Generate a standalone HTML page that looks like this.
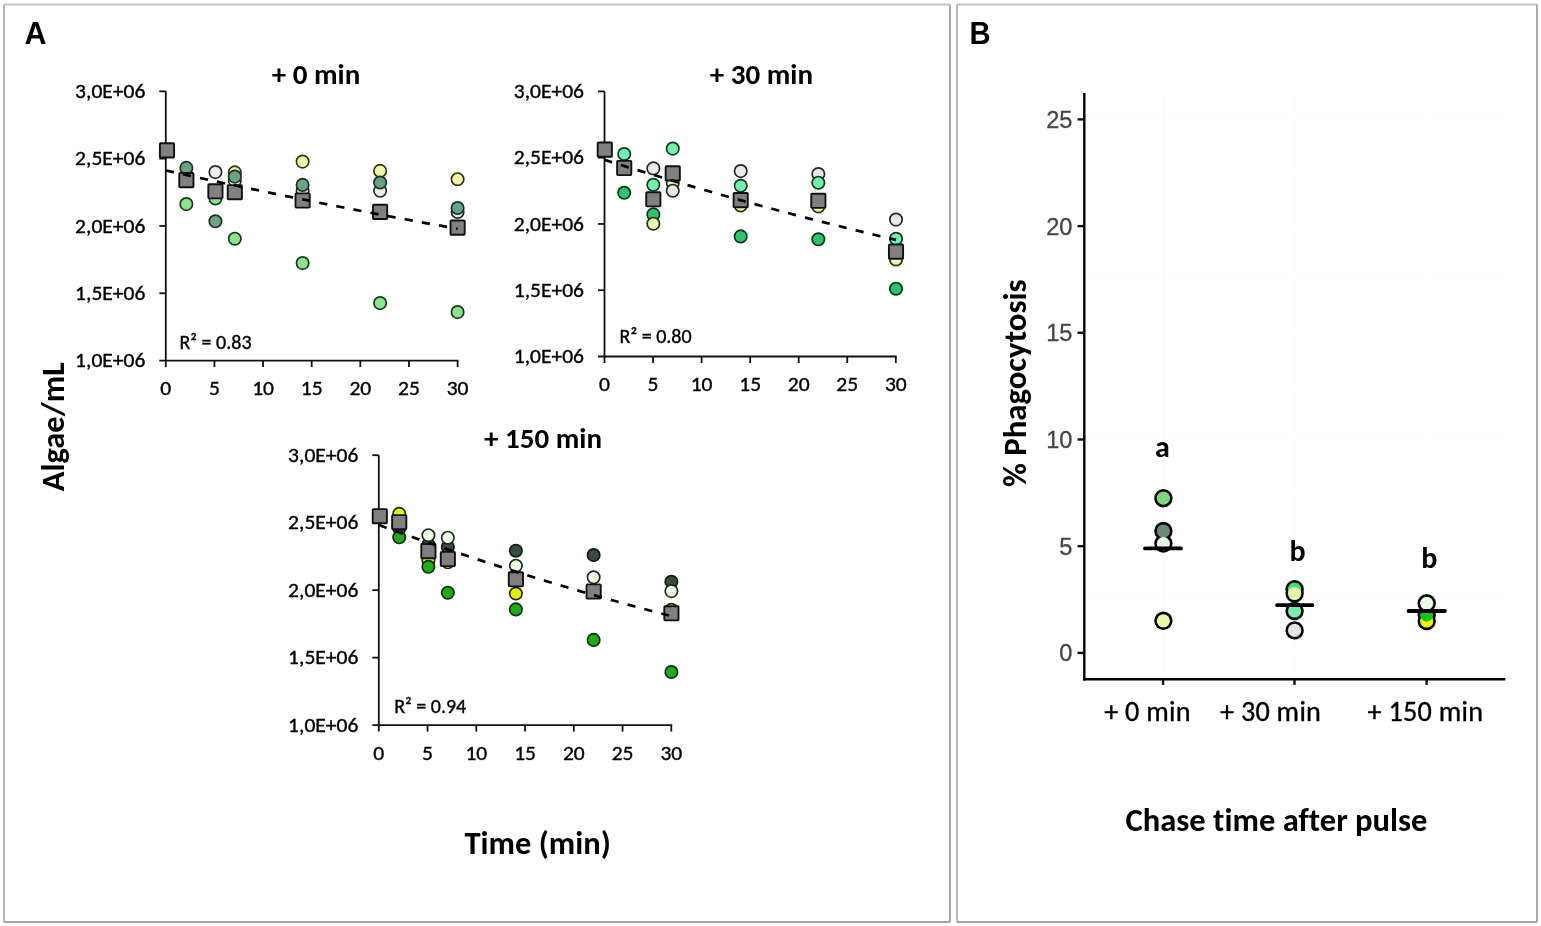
<!DOCTYPE html>
<html><head><meta charset="utf-8"><title>Figure</title>
<style>
html,body{margin:0;padding:0;background:#fff;}
body{width:1541px;height:926px;overflow:hidden;}
svg{display:block;}
text{font-variant-ligatures:none;font-feature-settings:'liga' 0,'clig' 0;}
text.r{stroke:#000;stroke-width:0.35px;}
text.g{stroke:#454545;stroke-width:0.3px;}
</style></head>
<body>
<svg width="1541" height="926" viewBox="0 0 1541 926">
<rect x="0" y="0" width="1541" height="926" fill="#fff"></rect>
<line x1="4" y1="4.5" x2="950" y2="4.5" stroke="#c4c4c4" stroke-width="2"></line>
<line x1="4" y1="4.5" x2="4" y2="922" stroke="#b8b8b8" stroke-width="2"></line>
<line x1="4" y1="922" x2="950" y2="922" stroke="#a4a4a4" stroke-width="2"></line>
<line x1="950" y1="4.5" x2="950" y2="922" stroke="#aaaaaa" stroke-width="2"></line>
<line x1="957" y1="4.5" x2="1537" y2="4.5" stroke="#c4c4c4" stroke-width="2"></line>
<line x1="957" y1="4.5" x2="957" y2="922" stroke="#b8b8b8" stroke-width="2"></line>
<line x1="957" y1="922" x2="1537" y2="922" stroke="#a4a4a4" stroke-width="2"></line>
<line x1="1537" y1="4.5" x2="1537" y2="922" stroke="#aaaaaa" stroke-width="2"></line>
<text x="24.4" y="44" font-family="&quot;Liberation Sans&quot;, Arial, sans-serif" font-weight="bold" font-size="30.5" textLength="22.03" lengthAdjust="spacingAndGlyphs">A</text>
<text x="969.4" y="44" font-family="&quot;Liberation Sans&quot;, Arial, sans-serif" font-weight="bold" font-size="30.5" transform="translate(969.4 0) scale(0.96 1) translate(-969.4 0)" textLength="22.01" lengthAdjust="spacingAndGlyphs">B</text>
<line x1="165.8" y1="91.3" x2="165.8" y2="360.6" stroke="#111" stroke-width="1.8"></line>
<line x1="159.3" y1="360.6" x2="458.5" y2="360.6" stroke="#111" stroke-width="1.8"></line>
<line x1="159.3" y1="293.28" x2="165.8" y2="293.28" stroke="#111" stroke-width="1.8"></line>
<line x1="159.3" y1="225.95" x2="165.8" y2="225.95" stroke="#111" stroke-width="1.8"></line>
<line x1="159.3" y1="158.62" x2="165.8" y2="158.62" stroke="#111" stroke-width="1.8"></line>
<line x1="159.3" y1="91.30" x2="165.8" y2="91.30" stroke="#111" stroke-width="1.8"></line>
<line x1="165.80" y1="360.6" x2="165.80" y2="367.1" stroke="#111" stroke-width="1.8"></line>
<line x1="214.43" y1="360.6" x2="214.43" y2="367.1" stroke="#111" stroke-width="1.8"></line>
<line x1="263.07" y1="360.6" x2="263.07" y2="367.1" stroke="#111" stroke-width="1.8"></line>
<line x1="311.70" y1="360.6" x2="311.70" y2="367.1" stroke="#111" stroke-width="1.8"></line>
<line x1="360.33" y1="360.6" x2="360.33" y2="367.1" stroke="#111" stroke-width="1.8"></line>
<line x1="408.97" y1="360.6" x2="408.97" y2="367.1" stroke="#111" stroke-width="1.8"></line>
<line x1="457.60" y1="360.6" x2="457.60" y2="367.1" stroke="#111" stroke-width="1.8"></line>
<text x="145.30" y="367.20" class="r" text-anchor="end" font-size="20" font-family="&quot;Carlito&quot;, &quot;Liberation Sans&quot;, sans-serif" textLength="70.17" lengthAdjust="spacingAndGlyphs">1,0E+06</text>
<text x="145.30" y="299.88" class="r" text-anchor="end" font-size="20" font-family="&quot;Carlito&quot;, &quot;Liberation Sans&quot;, sans-serif" textLength="70.17" lengthAdjust="spacingAndGlyphs">1,5E+06</text>
<text x="145.30" y="232.55" class="r" text-anchor="end" font-size="20" font-family="&quot;Carlito&quot;, &quot;Liberation Sans&quot;, sans-serif" textLength="70.17" lengthAdjust="spacingAndGlyphs">2,0E+06</text>
<text x="145.30" y="165.22" class="r" text-anchor="end" font-size="20" font-family="&quot;Carlito&quot;, &quot;Liberation Sans&quot;, sans-serif" textLength="70.17" lengthAdjust="spacingAndGlyphs">2,5E+06</text>
<text x="145.30" y="97.90" class="r" text-anchor="end" font-size="20" font-family="&quot;Carlito&quot;, &quot;Liberation Sans&quot;, sans-serif" textLength="70.17" lengthAdjust="spacingAndGlyphs">3,0E+06</text>
<text x="165.80" y="395.2" class="r" text-anchor="middle" font-size="20" font-family="&quot;Carlito&quot;, &quot;Liberation Sans&quot;, sans-serif" textLength="10.91" lengthAdjust="spacingAndGlyphs">0</text>
<text x="214.43" y="395.2" class="r" text-anchor="middle" font-size="20" font-family="&quot;Carlito&quot;, &quot;Liberation Sans&quot;, sans-serif" textLength="10.91" lengthAdjust="spacingAndGlyphs">5</text>
<text x="263.07" y="395.2" class="r" text-anchor="middle" font-size="20" font-family="&quot;Carlito&quot;, &quot;Liberation Sans&quot;, sans-serif" textLength="21.80" lengthAdjust="spacingAndGlyphs">10</text>
<text x="311.70" y="395.2" class="r" text-anchor="middle" font-size="20" font-family="&quot;Carlito&quot;, &quot;Liberation Sans&quot;, sans-serif" textLength="21.80" lengthAdjust="spacingAndGlyphs">15</text>
<text x="360.33" y="395.2" class="r" text-anchor="middle" font-size="20" font-family="&quot;Carlito&quot;, &quot;Liberation Sans&quot;, sans-serif" textLength="21.80" lengthAdjust="spacingAndGlyphs">20</text>
<text x="408.97" y="395.2" class="r" text-anchor="middle" font-size="20" font-family="&quot;Carlito&quot;, &quot;Liberation Sans&quot;, sans-serif" textLength="21.80" lengthAdjust="spacingAndGlyphs">25</text>
<text x="457.60" y="395.2" class="r" text-anchor="middle" font-size="20" font-family="&quot;Carlito&quot;, &quot;Liberation Sans&quot;, sans-serif" textLength="21.80" lengthAdjust="spacingAndGlyphs">30</text>
<circle cx="186.37" cy="167.9" r="6.2" fill="#70a086" stroke="#123424" stroke-width="1.7"></circle>
<circle cx="186.37" cy="204.1" r="6.2" fill="#8ee28e" stroke="#123c16" stroke-width="1.7"></circle>
<circle cx="215.43" cy="172.1" r="6.2" fill="#eaefea" stroke="#262a26" stroke-width="1.7"></circle>
<circle cx="215.43" cy="198.5" r="6.2" fill="#8ee28e" stroke="#123c16" stroke-width="1.7"></circle>
<circle cx="215.43" cy="221.3" r="6.2" fill="#70a086" stroke="#123424" stroke-width="1.7"></circle>
<circle cx="234.81" cy="172.4" r="6.2" fill="#f2f6a8" stroke="#34340e" stroke-width="1.7"></circle>
<circle cx="234.81" cy="180.8" r="6.2" fill="#eaefea" stroke="#262a26" stroke-width="1.7"></circle>
<circle cx="234.81" cy="176.6" r="6.2" fill="#70a086" stroke="#123424" stroke-width="1.7"></circle>
<circle cx="234.81" cy="238.7" r="6.2" fill="#8ee28e" stroke="#123c16" stroke-width="1.7"></circle>
<circle cx="302.61" cy="161.6" r="6.2" fill="#f2f6a8" stroke="#34340e" stroke-width="1.7"></circle>
<circle cx="302.61" cy="190.8" r="6.2" fill="#eaefea" stroke="#262a26" stroke-width="1.7"></circle>
<circle cx="302.61" cy="184.9" r="6.2" fill="#70a086" stroke="#123424" stroke-width="1.7"></circle>
<circle cx="302.61" cy="263.1" r="6.2" fill="#8ee28e" stroke="#123c16" stroke-width="1.7"></circle>
<circle cx="380.11" cy="170.9" r="6.2" fill="#f2f6a8" stroke="#34340e" stroke-width="1.7"></circle>
<circle cx="380.11" cy="190.8" r="6.2" fill="#eaefea" stroke="#262a26" stroke-width="1.7"></circle>
<circle cx="380.11" cy="182.5" r="6.2" fill="#70a086" stroke="#123424" stroke-width="1.7"></circle>
<circle cx="380.11" cy="303.1" r="6.2" fill="#8ee28e" stroke="#123c16" stroke-width="1.7"></circle>
<circle cx="457.60" cy="179.2" r="6.2" fill="#f2f6a8" stroke="#34340e" stroke-width="1.7"></circle>
<circle cx="457.60" cy="211.9" r="6.2" fill="#eaefea" stroke="#262a26" stroke-width="1.7"></circle>
<circle cx="457.60" cy="208.0" r="6.2" fill="#70a086" stroke="#123424" stroke-width="1.7"></circle>
<circle cx="457.60" cy="312.1" r="6.2" fill="#8ee28e" stroke="#123c16" stroke-width="1.7"></circle>
<rect x="159.90" y="143.30" width="14.2" height="14.2" rx="0.8" fill="#808080" stroke="#111" stroke-width="1.9"></rect>
<rect x="179.27" y="173.00" width="14.2" height="14.2" rx="0.8" fill="#808080" stroke="#111" stroke-width="1.9"></rect>
<rect x="208.33" y="184.20" width="14.2" height="14.2" rx="0.8" fill="#808080" stroke="#111" stroke-width="1.9"></rect>
<rect x="227.71" y="185.10" width="14.2" height="14.2" rx="0.8" fill="#808080" stroke="#111" stroke-width="1.9"></rect>
<rect x="295.51" y="193.40" width="14.2" height="14.2" rx="0.8" fill="#808080" stroke="#111" stroke-width="1.9"></rect>
<rect x="373.01" y="204.80" width="14.2" height="14.2" rx="0.8" fill="#808080" stroke="#111" stroke-width="1.9"></rect>
<rect x="450.50" y="220.50" width="14.2" height="14.2" rx="0.8" fill="#808080" stroke="#111" stroke-width="1.9"></rect>
<polyline points="166.00,170.51 173.29,172.13 180.58,173.73 187.87,175.33 195.16,176.92 202.45,178.50 209.74,180.07 217.03,181.64 224.32,183.20 231.61,184.74 238.90,186.29 246.19,187.82 253.48,189.34 260.77,190.86 268.06,192.37 275.35,193.87 282.64,195.37 289.93,196.85 297.22,198.33 304.51,199.80 311.80,201.26 319.09,202.71 326.38,204.16 333.67,205.59 340.96,207.02 348.25,208.45 355.54,209.86 362.83,211.26 370.12,212.66 377.41,214.05 384.70,215.43 391.99,216.81 399.28,218.17 406.57,219.53 413.86,220.88 421.15,222.22 428.44,223.55 435.73,224.88 443.02,226.19 450.31,227.50 457.60,228.81" fill="none" stroke="#000" stroke-width="2.7" stroke-dasharray="8.2 9.2" stroke-linecap="butt"></polyline>
<text x="316" y="84.2" text-anchor="middle" font-size="29" font-weight="bold" font-family="&quot;Carlito&quot;, &quot;Liberation Sans&quot;, sans-serif" textLength="88.53" lengthAdjust="spacingAndGlyphs">+ 0 min</text>
<text x="179.5" y="348.5" class="r" font-size="20" font-family="&quot;Carlito&quot;, &quot;Liberation Sans&quot;, sans-serif" textLength="72.05" lengthAdjust="spacingAndGlyphs">R² = 0.83</text>
<line x1="604.5" y1="91.4" x2="604.5" y2="356.5" stroke="#111" stroke-width="1.8"></line>
<line x1="598.0" y1="356.5" x2="896.6999999999999" y2="356.5" stroke="#111" stroke-width="1.8"></line>
<line x1="598.0" y1="290.23" x2="604.5" y2="290.23" stroke="#111" stroke-width="1.8"></line>
<line x1="598.0" y1="223.95" x2="604.5" y2="223.95" stroke="#111" stroke-width="1.8"></line>
<line x1="598.0" y1="157.67" x2="604.5" y2="157.67" stroke="#111" stroke-width="1.8"></line>
<line x1="598.0" y1="91.40" x2="604.5" y2="91.40" stroke="#111" stroke-width="1.8"></line>
<line x1="604.50" y1="356.5" x2="604.50" y2="363.0" stroke="#111" stroke-width="1.8"></line>
<line x1="653.05" y1="356.5" x2="653.05" y2="363.0" stroke="#111" stroke-width="1.8"></line>
<line x1="701.60" y1="356.5" x2="701.60" y2="363.0" stroke="#111" stroke-width="1.8"></line>
<line x1="750.15" y1="356.5" x2="750.15" y2="363.0" stroke="#111" stroke-width="1.8"></line>
<line x1="798.70" y1="356.5" x2="798.70" y2="363.0" stroke="#111" stroke-width="1.8"></line>
<line x1="847.25" y1="356.5" x2="847.25" y2="363.0" stroke="#111" stroke-width="1.8"></line>
<line x1="895.80" y1="356.5" x2="895.80" y2="363.0" stroke="#111" stroke-width="1.8"></line>
<text x="584.00" y="363.10" class="r" text-anchor="end" font-size="20" font-family="&quot;Carlito&quot;, &quot;Liberation Sans&quot;, sans-serif" textLength="70.17" lengthAdjust="spacingAndGlyphs">1,0E+06</text>
<text x="584.00" y="296.83" class="r" text-anchor="end" font-size="20" font-family="&quot;Carlito&quot;, &quot;Liberation Sans&quot;, sans-serif" textLength="70.17" lengthAdjust="spacingAndGlyphs">1,5E+06</text>
<text x="584.00" y="230.55" class="r" text-anchor="end" font-size="20" font-family="&quot;Carlito&quot;, &quot;Liberation Sans&quot;, sans-serif" textLength="70.17" lengthAdjust="spacingAndGlyphs">2,0E+06</text>
<text x="584.00" y="164.27" class="r" text-anchor="end" font-size="20" font-family="&quot;Carlito&quot;, &quot;Liberation Sans&quot;, sans-serif" textLength="70.17" lengthAdjust="spacingAndGlyphs">2,5E+06</text>
<text x="584.00" y="98.00" class="r" text-anchor="end" font-size="20" font-family="&quot;Carlito&quot;, &quot;Liberation Sans&quot;, sans-serif" textLength="70.17" lengthAdjust="spacingAndGlyphs">3,0E+06</text>
<text x="604.50" y="391.2" class="r" text-anchor="middle" font-size="20" font-family="&quot;Carlito&quot;, &quot;Liberation Sans&quot;, sans-serif" textLength="10.91" lengthAdjust="spacingAndGlyphs">0</text>
<text x="653.05" y="391.2" class="r" text-anchor="middle" font-size="20" font-family="&quot;Carlito&quot;, &quot;Liberation Sans&quot;, sans-serif" textLength="10.91" lengthAdjust="spacingAndGlyphs">5</text>
<text x="701.60" y="391.2" class="r" text-anchor="middle" font-size="20" font-family="&quot;Carlito&quot;, &quot;Liberation Sans&quot;, sans-serif" textLength="21.80" lengthAdjust="spacingAndGlyphs">10</text>
<text x="750.15" y="391.2" class="r" text-anchor="middle" font-size="20" font-family="&quot;Carlito&quot;, &quot;Liberation Sans&quot;, sans-serif" textLength="21.80" lengthAdjust="spacingAndGlyphs">15</text>
<text x="798.70" y="391.2" class="r" text-anchor="middle" font-size="20" font-family="&quot;Carlito&quot;, &quot;Liberation Sans&quot;, sans-serif" textLength="21.80" lengthAdjust="spacingAndGlyphs">20</text>
<text x="847.25" y="391.2" class="r" text-anchor="middle" font-size="20" font-family="&quot;Carlito&quot;, &quot;Liberation Sans&quot;, sans-serif" textLength="21.80" lengthAdjust="spacingAndGlyphs">25</text>
<text x="895.80" y="391.2" class="r" text-anchor="middle" font-size="20" font-family="&quot;Carlito&quot;, &quot;Liberation Sans&quot;, sans-serif" textLength="21.80" lengthAdjust="spacingAndGlyphs">30</text>
<circle cx="624.21" cy="154.0" r="6.2" fill="#76eeae" stroke="#0c3a1e" stroke-width="1.7"></circle>
<circle cx="624.21" cy="192.8" r="6.2" fill="#2ec46e" stroke="#0a3018" stroke-width="1.7"></circle>
<circle cx="653.33" cy="168.4" r="6.2" fill="#e6ebe6" stroke="#222622" stroke-width="1.7"></circle>
<circle cx="653.33" cy="184.8" r="6.2" fill="#76eeae" stroke="#0c3a1e" stroke-width="1.7"></circle>
<circle cx="653.33" cy="214.4" r="6.2" fill="#2ec46e" stroke="#0a3018" stroke-width="1.7"></circle>
<circle cx="653.33" cy="223.7" r="6.2" fill="#e8f8b0" stroke="#262e10" stroke-width="1.7"></circle>
<circle cx="672.75" cy="183.0" r="6.2" fill="#e8f8b0" stroke="#262e10" stroke-width="1.7"></circle>
<circle cx="672.75" cy="190.7" r="6.2" fill="#e6ebe6" stroke="#222622" stroke-width="1.7"></circle>
<circle cx="672.75" cy="148.6" r="6.2" fill="#76eeae" stroke="#0c3a1e" stroke-width="1.7"></circle>
<circle cx="740.69" cy="171.1" r="6.2" fill="#e6ebe6" stroke="#222622" stroke-width="1.7"></circle>
<circle cx="740.69" cy="205.5" r="6.2" fill="#e8f8b0" stroke="#262e10" stroke-width="1.7"></circle>
<circle cx="740.69" cy="185.8" r="6.2" fill="#76eeae" stroke="#0c3a1e" stroke-width="1.7"></circle>
<circle cx="740.69" cy="236.4" r="6.2" fill="#2ec46e" stroke="#0a3018" stroke-width="1.7"></circle>
<circle cx="818.35" cy="174.0" r="6.2" fill="#e6ebe6" stroke="#222622" stroke-width="1.7"></circle>
<circle cx="818.35" cy="206.5" r="6.2" fill="#e8f8b0" stroke="#262e10" stroke-width="1.7"></circle>
<circle cx="818.35" cy="182.7" r="6.2" fill="#76eeae" stroke="#0c3a1e" stroke-width="1.7"></circle>
<circle cx="818.35" cy="239.3" r="6.2" fill="#2ec46e" stroke="#0a3018" stroke-width="1.7"></circle>
<circle cx="896.00" cy="219.6" r="6.2" fill="#e6ebe6" stroke="#222622" stroke-width="1.7"></circle>
<circle cx="896.00" cy="259.5" r="6.2" fill="#e8f8b0" stroke="#262e10" stroke-width="1.7"></circle>
<circle cx="896.00" cy="238.8" r="6.2" fill="#76eeae" stroke="#0c3a1e" stroke-width="1.7"></circle>
<circle cx="896.00" cy="288.7" r="6.2" fill="#2ec46e" stroke="#0a3018" stroke-width="1.7"></circle>
<rect x="597.70" y="142.50" width="14.2" height="14.2" rx="0.8" fill="#808080" stroke="#111" stroke-width="1.9"></rect>
<rect x="617.11" y="160.90" width="14.2" height="14.2" rx="0.8" fill="#808080" stroke="#111" stroke-width="1.9"></rect>
<rect x="646.23" y="192.20" width="14.2" height="14.2" rx="0.8" fill="#808080" stroke="#111" stroke-width="1.9"></rect>
<rect x="665.65" y="166.30" width="14.2" height="14.2" rx="0.8" fill="#808080" stroke="#111" stroke-width="1.9"></rect>
<rect x="733.59" y="193.00" width="14.2" height="14.2" rx="0.8" fill="#808080" stroke="#111" stroke-width="1.9"></rect>
<rect x="811.25" y="193.70" width="14.2" height="14.2" rx="0.8" fill="#808080" stroke="#111" stroke-width="1.9"></rect>
<rect x="888.90" y="244.50" width="14.2" height="14.2" rx="0.8" fill="#808080" stroke="#111" stroke-width="1.9"></rect>
<polyline points="604.30,159.82 611.59,162.12 618.88,164.40 626.18,166.66 633.47,168.91 640.76,171.14 648.05,173.36 655.35,175.57 662.64,177.75 669.93,179.93 677.22,182.09 684.52,184.23 691.81,186.36 699.10,188.47 706.39,190.57 713.69,192.66 720.98,194.72 728.27,196.78 735.56,198.82 742.86,200.84 750.15,202.85 757.44,204.84 764.74,206.82 772.03,208.79 779.32,210.73 786.61,212.67 793.90,214.59 801.20,216.49 808.49,218.38 815.78,220.25 823.08,222.11 830.37,223.96 837.66,225.79 844.95,227.60 852.25,229.40 859.54,231.18 866.83,232.95 874.12,234.71 881.41,236.45 888.71,238.17 896.00,239.88" fill="none" stroke="#000" stroke-width="2.7" stroke-dasharray="8.2 9.2" stroke-linecap="butt"></polyline>
<text x="761.4" y="84" text-anchor="middle" font-size="29" font-weight="bold" font-family="&quot;Carlito&quot;, &quot;Liberation Sans&quot;, sans-serif" textLength="103.23" lengthAdjust="spacingAndGlyphs">+ 30 min</text>
<text x="619.6" y="343.2" class="r" font-size="20" font-family="&quot;Carlito&quot;, &quot;Liberation Sans&quot;, sans-serif" textLength="72.05" lengthAdjust="spacingAndGlyphs">R² = 0.80</text>
<line x1="378.8" y1="455.2" x2="378.8" y2="725.1" stroke="#111" stroke-width="1.8"></line>
<line x1="372.3" y1="725.1" x2="672.1999999999999" y2="725.1" stroke="#111" stroke-width="1.8"></line>
<line x1="372.3" y1="657.62" x2="378.8" y2="657.62" stroke="#111" stroke-width="1.8"></line>
<line x1="372.3" y1="590.15" x2="378.8" y2="590.15" stroke="#111" stroke-width="1.8"></line>
<line x1="372.3" y1="522.67" x2="378.8" y2="522.67" stroke="#111" stroke-width="1.8"></line>
<line x1="372.3" y1="455.20" x2="378.8" y2="455.20" stroke="#111" stroke-width="1.8"></line>
<line x1="378.80" y1="725.1" x2="378.80" y2="731.6" stroke="#111" stroke-width="1.8"></line>
<line x1="427.55" y1="725.1" x2="427.55" y2="731.6" stroke="#111" stroke-width="1.8"></line>
<line x1="476.30" y1="725.1" x2="476.30" y2="731.6" stroke="#111" stroke-width="1.8"></line>
<line x1="525.05" y1="725.1" x2="525.05" y2="731.6" stroke="#111" stroke-width="1.8"></line>
<line x1="573.80" y1="725.1" x2="573.80" y2="731.6" stroke="#111" stroke-width="1.8"></line>
<line x1="622.55" y1="725.1" x2="622.55" y2="731.6" stroke="#111" stroke-width="1.8"></line>
<line x1="671.30" y1="725.1" x2="671.30" y2="731.6" stroke="#111" stroke-width="1.8"></line>
<text x="358.30" y="731.70" class="r" text-anchor="end" font-size="20" font-family="&quot;Carlito&quot;, &quot;Liberation Sans&quot;, sans-serif" textLength="70.17" lengthAdjust="spacingAndGlyphs">1,0E+06</text>
<text x="358.30" y="664.23" class="r" text-anchor="end" font-size="20" font-family="&quot;Carlito&quot;, &quot;Liberation Sans&quot;, sans-serif" textLength="70.17" lengthAdjust="spacingAndGlyphs">1,5E+06</text>
<text x="358.30" y="596.75" class="r" text-anchor="end" font-size="20" font-family="&quot;Carlito&quot;, &quot;Liberation Sans&quot;, sans-serif" textLength="70.17" lengthAdjust="spacingAndGlyphs">2,0E+06</text>
<text x="358.30" y="529.27" class="r" text-anchor="end" font-size="20" font-family="&quot;Carlito&quot;, &quot;Liberation Sans&quot;, sans-serif" textLength="70.17" lengthAdjust="spacingAndGlyphs">2,5E+06</text>
<text x="358.30" y="461.80" class="r" text-anchor="end" font-size="20" font-family="&quot;Carlito&quot;, &quot;Liberation Sans&quot;, sans-serif" textLength="70.17" lengthAdjust="spacingAndGlyphs">3,0E+06</text>
<text x="378.80" y="760.2" class="r" text-anchor="middle" font-size="20" font-family="&quot;Carlito&quot;, &quot;Liberation Sans&quot;, sans-serif" textLength="10.91" lengthAdjust="spacingAndGlyphs">0</text>
<text x="427.55" y="760.2" class="r" text-anchor="middle" font-size="20" font-family="&quot;Carlito&quot;, &quot;Liberation Sans&quot;, sans-serif" textLength="10.91" lengthAdjust="spacingAndGlyphs">5</text>
<text x="476.30" y="760.2" class="r" text-anchor="middle" font-size="20" font-family="&quot;Carlito&quot;, &quot;Liberation Sans&quot;, sans-serif" textLength="21.80" lengthAdjust="spacingAndGlyphs">10</text>
<text x="525.05" y="760.2" class="r" text-anchor="middle" font-size="20" font-family="&quot;Carlito&quot;, &quot;Liberation Sans&quot;, sans-serif" textLength="21.80" lengthAdjust="spacingAndGlyphs">15</text>
<text x="573.80" y="760.2" class="r" text-anchor="middle" font-size="20" font-family="&quot;Carlito&quot;, &quot;Liberation Sans&quot;, sans-serif" textLength="21.80" lengthAdjust="spacingAndGlyphs">20</text>
<text x="622.55" y="760.2" class="r" text-anchor="middle" font-size="20" font-family="&quot;Carlito&quot;, &quot;Liberation Sans&quot;, sans-serif" textLength="21.80" lengthAdjust="spacingAndGlyphs">25</text>
<text x="671.30" y="760.2" class="r" text-anchor="middle" font-size="20" font-family="&quot;Carlito&quot;, &quot;Liberation Sans&quot;, sans-serif" textLength="21.80" lengthAdjust="spacingAndGlyphs">30</text>
<circle cx="399.24" cy="513.8" r="6.2" fill="#e6f010" stroke="#2a2a00" stroke-width="1.7"></circle>
<circle cx="399.24" cy="528.5" r="6.2" fill="#384c40" stroke="#101a14" stroke-width="1.7"></circle>
<circle cx="399.24" cy="537.3" r="6.2" fill="#20aa20" stroke="#0a300a" stroke-width="1.7"></circle>
<circle cx="428.40" cy="544.7" r="6.2" fill="#384c40" stroke="#101a14" stroke-width="1.7"></circle>
<circle cx="428.40" cy="560.2" r="6.2" fill="#e6f010" stroke="#2a2a00" stroke-width="1.7"></circle>
<circle cx="428.40" cy="566.8" r="6.2" fill="#20aa20" stroke="#0a300a" stroke-width="1.7"></circle>
<circle cx="428.40" cy="535.2" r="6.2" fill="#f0fbe6" stroke="#1e2a1e" stroke-width="1.7"></circle>
<circle cx="447.84" cy="547.1" r="6.2" fill="#384c40" stroke="#101a14" stroke-width="1.7"></circle>
<circle cx="447.84" cy="562.3" r="6.2" fill="#e6f010" stroke="#2a2a00" stroke-width="1.7"></circle>
<circle cx="447.84" cy="592.7" r="6.2" fill="#20aa20" stroke="#0a300a" stroke-width="1.7"></circle>
<circle cx="447.84" cy="537.7" r="6.2" fill="#f0fbe6" stroke="#1e2a1e" stroke-width="1.7"></circle>
<circle cx="515.88" cy="550.7" r="6.2" fill="#384c40" stroke="#101a14" stroke-width="1.7"></circle>
<circle cx="515.88" cy="593.5" r="6.2" fill="#e6f010" stroke="#2a2a00" stroke-width="1.7"></circle>
<circle cx="515.88" cy="609.4" r="6.2" fill="#20aa20" stroke="#0a300a" stroke-width="1.7"></circle>
<circle cx="515.88" cy="565.7" r="6.2" fill="#f0fbe6" stroke="#1e2a1e" stroke-width="1.7"></circle>
<circle cx="593.64" cy="555.0" r="6.2" fill="#384c40" stroke="#101a14" stroke-width="1.7"></circle>
<circle cx="593.64" cy="591.5" r="6.2" fill="#e6f010" stroke="#2a2a00" stroke-width="1.7"></circle>
<circle cx="593.64" cy="639.9" r="6.2" fill="#20aa20" stroke="#0a300a" stroke-width="1.7"></circle>
<circle cx="593.64" cy="577.3" r="6.2" fill="#f0fbe6" stroke="#1e2a1e" stroke-width="1.7"></circle>
<circle cx="671.40" cy="581.8" r="6.2" fill="#384c40" stroke="#101a14" stroke-width="1.7"></circle>
<circle cx="671.40" cy="609.8" r="6.2" fill="#e6f010" stroke="#2a2a00" stroke-width="1.7"></circle>
<circle cx="671.40" cy="672.0" r="6.2" fill="#20aa20" stroke="#0a300a" stroke-width="1.7"></circle>
<circle cx="671.40" cy="591.1" r="6.2" fill="#f0fbe6" stroke="#1e2a1e" stroke-width="1.7"></circle>
<rect x="372.70" y="509.10" width="14.2" height="14.2" rx="0.8" fill="#808080" stroke="#111" stroke-width="1.9"></rect>
<rect x="392.14" y="515.10" width="14.2" height="14.2" rx="0.8" fill="#808080" stroke="#111" stroke-width="1.9"></rect>
<rect x="421.30" y="544.00" width="14.2" height="14.2" rx="0.8" fill="#808080" stroke="#111" stroke-width="1.9"></rect>
<rect x="440.74" y="551.90" width="14.2" height="14.2" rx="0.8" fill="#808080" stroke="#111" stroke-width="1.9"></rect>
<rect x="508.78" y="572.20" width="14.2" height="14.2" rx="0.8" fill="#808080" stroke="#111" stroke-width="1.9"></rect>
<rect x="586.54" y="584.40" width="14.2" height="14.2" rx="0.8" fill="#808080" stroke="#111" stroke-width="1.9"></rect>
<rect x="664.30" y="606.20" width="14.2" height="14.2" rx="0.8" fill="#808080" stroke="#111" stroke-width="1.9"></rect>
<polyline points="379.00,525.03 386.32,527.70 393.63,530.36 400.95,533.00 408.27,535.61 415.59,538.21 422.91,540.78 430.22,543.33 437.54,545.87 444.86,548.38 452.18,550.87 459.49,553.35 466.81,555.80 474.13,558.23 481.45,560.64 488.76,563.03 496.08,565.40 503.40,567.75 510.72,570.08 518.03,572.39 525.35,574.68 532.67,576.95 539.99,579.20 547.30,581.42 554.62,583.63 561.94,585.82 569.25,587.98 576.57,590.13 583.89,592.25 591.21,594.36 598.53,596.44 605.84,598.51 613.16,600.55 620.48,602.58 627.80,604.58 635.11,606.56 642.43,608.52 649.75,610.47 657.07,612.39 664.38,614.29 671.70,616.17" fill="none" stroke="#000" stroke-width="2.7" stroke-dasharray="8.2 9.2" stroke-linecap="butt"></polyline>
<text x="543" y="448.2" text-anchor="middle" font-size="29" font-weight="bold" font-family="&quot;Carlito&quot;, &quot;Liberation Sans&quot;, sans-serif" textLength="117.94" lengthAdjust="spacingAndGlyphs">+ 150 min</text>
<text x="394.2" y="713.2" class="r" font-size="20" font-family="&quot;Carlito&quot;, &quot;Liberation Sans&quot;, sans-serif" textLength="72.05" lengthAdjust="spacingAndGlyphs">R² = 0.94</text>
<text transform="translate(64,426.7) rotate(-90)" text-anchor="middle" font-size="32.5" font-weight="bold" font-family="&quot;Carlito&quot;, &quot;Liberation Sans&quot;, sans-serif" textLength="129.09" lengthAdjust="spacingAndGlyphs">Algae/mL</text>
<text x="537.7" y="853.6" text-anchor="middle" font-size="32.5" font-weight="bold" font-family="&quot;Carlito&quot;, &quot;Liberation Sans&quot;, sans-serif" textLength="146.34" lengthAdjust="spacingAndGlyphs">Time (min)</text>
<line x1="1086.3" y1="652.90" x2="1505.3" y2="652.90" stroke="#fbfbfb" stroke-width="1"></line>
<line x1="1086.3" y1="599.55" x2="1505.3" y2="599.55" stroke="#fbfbfb" stroke-width="1"></line>
<line x1="1086.3" y1="546.20" x2="1505.3" y2="546.20" stroke="#fbfbfb" stroke-width="1"></line>
<line x1="1086.3" y1="492.85" x2="1505.3" y2="492.85" stroke="#fbfbfb" stroke-width="1"></line>
<line x1="1086.3" y1="439.50" x2="1505.3" y2="439.50" stroke="#fbfbfb" stroke-width="1"></line>
<line x1="1086.3" y1="386.15" x2="1505.3" y2="386.15" stroke="#fbfbfb" stroke-width="1"></line>
<line x1="1086.3" y1="332.80" x2="1505.3" y2="332.80" stroke="#fbfbfb" stroke-width="1"></line>
<line x1="1086.3" y1="279.45" x2="1505.3" y2="279.45" stroke="#fbfbfb" stroke-width="1"></line>
<line x1="1086.3" y1="226.10" x2="1505.3" y2="226.10" stroke="#fbfbfb" stroke-width="1"></line>
<line x1="1086.3" y1="172.75" x2="1505.3" y2="172.75" stroke="#fbfbfb" stroke-width="1"></line>
<line x1="1086.3" y1="119.40" x2="1505.3" y2="119.40" stroke="#fbfbfb" stroke-width="1"></line>
<line x1="1163.4" y1="93" x2="1163.4" y2="677.3" stroke="#fbfbfb" stroke-width="1"></line>
<line x1="1294.6" y1="93" x2="1294.6" y2="677.3" stroke="#fbfbfb" stroke-width="1"></line>
<line x1="1426.7" y1="93" x2="1426.7" y2="677.3" stroke="#fbfbfb" stroke-width="1"></line>
<line x1="1084.3" y1="93" x2="1084.3" y2="680.5" stroke="#000" stroke-width="2.4"></line>
<line x1="1083.1" y1="679.3" x2="1505.3" y2="679.3" stroke="#000" stroke-width="2.4"></line>
<line x1="1077.5" y1="652.90" x2="1084.3" y2="652.90" stroke="#111" stroke-width="2.4"></line>
<text x="1072.3999999999999" y="661.30" class="g" text-anchor="end" font-size="23.6" fill="#454545" font-family="&quot;Liberation Sans&quot;, Arial, sans-serif" textLength="13.13" lengthAdjust="spacingAndGlyphs">0</text>
<line x1="1077.5" y1="546.20" x2="1084.3" y2="546.20" stroke="#111" stroke-width="2.4"></line>
<text x="1072.3999999999999" y="554.60" class="g" text-anchor="end" font-size="23.6" fill="#454545" font-family="&quot;Liberation Sans&quot;, Arial, sans-serif" textLength="13.13" lengthAdjust="spacingAndGlyphs">5</text>
<line x1="1077.5" y1="439.50" x2="1084.3" y2="439.50" stroke="#111" stroke-width="2.4"></line>
<text x="1072.3999999999999" y="447.90" class="g" text-anchor="end" font-size="23.6" fill="#454545" font-family="&quot;Liberation Sans&quot;, Arial, sans-serif" textLength="26.25" lengthAdjust="spacingAndGlyphs">10</text>
<line x1="1077.5" y1="332.80" x2="1084.3" y2="332.80" stroke="#111" stroke-width="2.4"></line>
<text x="1072.3999999999999" y="341.20" class="g" text-anchor="end" font-size="23.6" fill="#454545" font-family="&quot;Liberation Sans&quot;, Arial, sans-serif" textLength="26.25" lengthAdjust="spacingAndGlyphs">15</text>
<line x1="1077.5" y1="226.10" x2="1084.3" y2="226.10" stroke="#111" stroke-width="2.4"></line>
<text x="1072.3999999999999" y="234.50" class="g" text-anchor="end" font-size="23.6" fill="#454545" font-family="&quot;Liberation Sans&quot;, Arial, sans-serif" textLength="26.25" lengthAdjust="spacingAndGlyphs">20</text>
<line x1="1077.5" y1="119.40" x2="1084.3" y2="119.40" stroke="#111" stroke-width="2.4"></line>
<text x="1072.3999999999999" y="127.80" class="g" text-anchor="end" font-size="23.6" fill="#454545" font-family="&quot;Liberation Sans&quot;, Arial, sans-serif" textLength="26.25" lengthAdjust="spacingAndGlyphs">25</text>
<line x1="1163.1" y1="679.3" x2="1163.1" y2="684.9" stroke="#111" stroke-width="2.4"></line>
<line x1="1294.5" y1="679.3" x2="1294.5" y2="684.9" stroke="#111" stroke-width="2.4"></line>
<line x1="1426.6" y1="679.3" x2="1426.6" y2="684.9" stroke="#111" stroke-width="2.4"></line>
<text x="1104.1999999999998" y="721.4" class="r" font-size="28.2" letter-spacing="0.25" font-family="&quot;Carlito&quot;, &quot;Liberation Sans&quot;, sans-serif" textLength="86.63" lengthAdjust="spacingAndGlyphs">+ 0 min</text>
<text x="1220.0" y="721.4" class="r" font-size="28.2" letter-spacing="0.25" font-family="&quot;Carlito&quot;, &quot;Liberation Sans&quot;, sans-serif" textLength="101.16" lengthAdjust="spacingAndGlyphs">+ 30 min</text>
<text x="1367.6" y="721.4" class="r" font-size="28.2" letter-spacing="0.25" font-family="&quot;Carlito&quot;, &quot;Liberation Sans&quot;, sans-serif" textLength="115.70" lengthAdjust="spacingAndGlyphs">+ 150 min</text>
<circle cx="1163.4" cy="620.8" r="9.2" fill="#000"></circle>
<circle cx="1163.4" cy="531.0" r="9.2" fill="#000"></circle>
<circle cx="1163.4" cy="543.6" r="9.2" fill="#000"></circle>
<circle cx="1163.4" cy="498.2" r="9.2" fill="#000"></circle>
<circle cx="1294.6" cy="630.4" r="9.2" fill="#000"></circle>
<circle cx="1294.6" cy="611.0" r="9.2" fill="#000"></circle>
<circle cx="1294.6" cy="589.2" r="9.2" fill="#000"></circle>
<circle cx="1294.6" cy="593.5" r="9.2" fill="#000"></circle>
<circle cx="1426.7" cy="621.0" r="9.2" fill="#000"></circle>
<circle cx="1426.7" cy="614.8" r="9.2" fill="#000"></circle>
<circle cx="1426.7" cy="603.3" r="9.2" fill="#000"></circle>
<circle cx="1163.4" cy="620.8" r="6.6" fill="#eef6a4"></circle>
<circle cx="1163.4" cy="531.0" r="6.6" fill="#688c78"></circle>
<circle cx="1163.4" cy="543.6" r="6.6" fill="#e6f6e4"></circle>
<circle cx="1163.4" cy="498.2" r="6.6" fill="#7fd67f"></circle>
<circle cx="1294.6" cy="630.4" r="6.6" fill="#e2e6e0"></circle>
<circle cx="1294.6" cy="611.0" r="6.6" fill="#74eeaa"></circle>
<circle cx="1294.6" cy="589.2" r="6.6" fill="#3ee07a"></circle>
<circle cx="1294.6" cy="593.5" r="6.6" fill="#e4f8a8"></circle>
<circle cx="1426.7" cy="621.0" r="6.6" fill="#eef400"></circle>
<circle cx="1426.7" cy="614.8" r="6.6" fill="#10c414"></circle>
<circle cx="1426.7" cy="603.3" r="6.6" fill="#e8f8e2"></circle>
<line x1="1145.0" y1="548.4" x2="1181.1" y2="548.4" stroke="#000" stroke-width="3.8" stroke-linecap="round"></line>
<line x1="1277.2" y1="605.2" x2="1312.3" y2="605.2" stroke="#000" stroke-width="3.8" stroke-linecap="round"></line>
<line x1="1408.5" y1="611.0" x2="1444.8999999999999" y2="611.0" stroke="#000" stroke-width="3.8" stroke-linecap="round"></line>
<text x="1162.5" y="456.8" text-anchor="middle" font-size="30" font-weight="bold" font-family="&quot;Carlito&quot;, &quot;Liberation Sans&quot;, sans-serif" textLength="14.81" lengthAdjust="spacingAndGlyphs">a</text>
<text x="1297.5" y="561.1" text-anchor="middle" font-size="30" font-weight="bold" font-family="&quot;Carlito&quot;, &quot;Liberation Sans&quot;, sans-serif" textLength="16.11" lengthAdjust="spacingAndGlyphs">b</text>
<text x="1429.3" y="568.3" text-anchor="middle" font-size="30" font-weight="bold" font-family="&quot;Carlito&quot;, &quot;Liberation Sans&quot;, sans-serif" textLength="16.11" lengthAdjust="spacingAndGlyphs">b</text>
<text x="1276.5" y="830.7" text-anchor="middle" font-size="32.6" font-weight="bold" font-family="&quot;Carlito&quot;, &quot;Liberation Sans&quot;, sans-serif" textLength="301.95" lengthAdjust="spacingAndGlyphs">Chase time after pulse</text>
<text transform="translate(1025.9,383.2) rotate(-90)" text-anchor="middle" font-size="32.8" font-weight="bold" font-family="&quot;Carlito&quot;, &quot;Liberation Sans&quot;, sans-serif" textLength="207.77" lengthAdjust="spacingAndGlyphs">% Phagocytosis</text>
</svg>

</body></html>
